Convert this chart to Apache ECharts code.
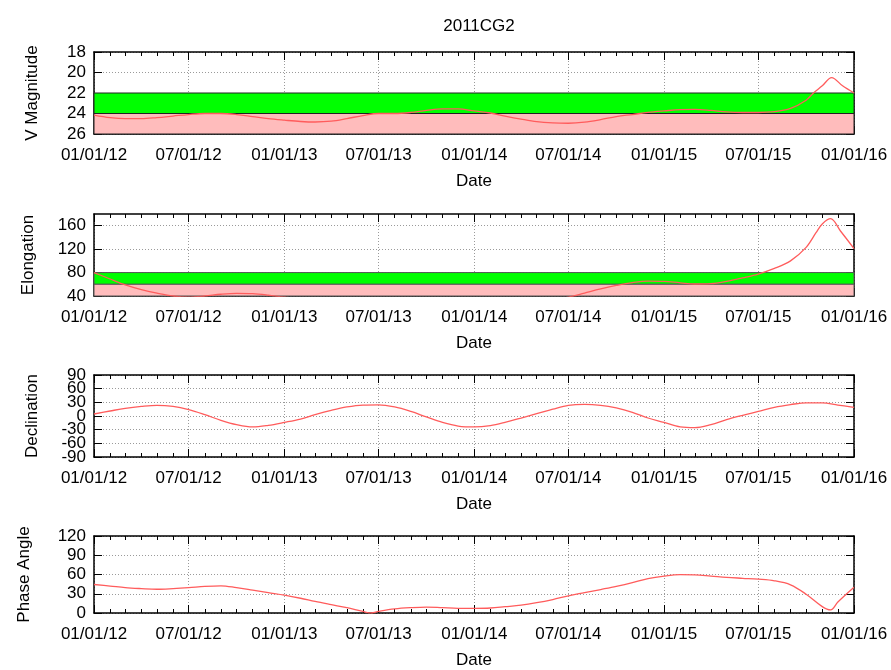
<!DOCTYPE html>
<html><head><meta charset="utf-8">
<script src="https://cdn.jsdelivr.net/npm/echarts@6/dist/echarts.min.js"></script>
<style>html,body{margin:0;padding:0;background:#fff}#c{width:891px;height:670px}</style>
</head><body><div id="c"></div>
<script>
// ---------------- data ----------------
const chartTitle = '2011CG2';
const xName = 'Date';
const xStart = '2012-01-01';
const xEnd = '2016-01-01';
const xTickDates = ['2012-01-01','2012-07-01','2013-01-01','2013-07-01','2014-01-01','2014-07-01','2015-01-01','2015-07-01','2016-01-01'];

const vmagTicks = [18, 20, 22, 24, 26];
const vmagGoodBand = [22, 24];
const vmagFaintBand = [24, 26];
const vmagDates = ['2012-01-01','2012-02-01','2012-03-01','2012-04-01','2012-05-01','2012-06-01','2012-07-01','2012-08-01','2012-09-01','2012-10-01','2012-11-01','2012-12-01',
  '2013-01-01','2013-02-01','2013-03-01','2013-04-01','2013-05-01','2013-06-01','2013-07-01','2013-08-01','2013-09-01','2013-10-01','2013-11-01','2013-12-01',
  '2014-01-01','2014-02-01','2014-03-01','2014-04-01','2014-05-01','2014-06-01','2014-07-01','2014-08-01','2014-09-01','2014-10-01','2014-11-01','2014-12-01',
  '2015-01-01','2015-02-01','2015-03-01','2015-04-01','2015-05-01','2015-06-01','2015-07-01','2015-08-01','2015-09-01','2015-10-01','2015-10-15','2015-11-01','2015-11-19','2015-12-10','2016-01-01'];
const vmagValues = [24.15,24.4,24.5,24.5,24.4,24.25,24.1,24.0,24.0,24.1,24.3,24.5,
  24.65,24.78,24.83,24.75,24.5,24.2,24.0,24.0,23.9,23.7,23.55,23.55,
  23.75,23.95,24.25,24.55,24.8,24.92,24.95,24.85,24.6,24.3,24.1,23.9,
  23.75,23.62,23.6,23.7,23.85,23.9,23.9,23.82,23.5,22.7,22.0,21.3,20.5,21.3,22.0];

const elongTicks = [40, 80, 120, 160];
const elongGoodBand = [60, 80];
const elongLowBand = [40, 60];
const elongDates = ['2012-01-01','2012-02-01','2012-03-01','2012-04-01','2012-05-01','2012-06-01','2012-07-01','2012-08-01','2012-09-01','2012-10-01','2012-11-01','2012-12-01',
  '2013-01-01','2013-04-01','2013-07-01','2013-10-01','2014-01-01','2014-04-01','2014-06-01','2014-07-01','2014-08-01','2014-09-01','2014-10-01','2014-11-01','2014-12-01',
  '2015-01-01','2015-02-01','2015-03-01','2015-04-01','2015-05-01','2015-06-01','2015-07-01','2015-08-01','2015-09-01','2015-10-01','2015-10-20','2015-11-01','2015-11-17','2015-12-06','2016-01-01'];
const elongValues = [80,69,59,51,45,40,38,40,43,44.5,44,41.5,
  38,30,27,25,24,27,33,38,45,52,58,63,65.5,
  65,62.5,60.5,61,65,71,77.5,87,100,123,148,163,172,151,121];

const decTicks = [-90, -60, -30, 0, 30, 60, 90];
const decDates = ['2012-01-01','2012-02-01','2012-03-01','2012-04-01','2012-05-01','2012-06-01','2012-07-01','2012-08-01','2012-09-01','2012-10-01','2012-11-01','2012-12-01',
  '2013-01-01','2013-02-01','2013-03-01','2013-04-01','2013-05-01','2013-06-01','2013-07-01','2013-08-01','2013-09-01','2013-10-01','2013-11-01','2013-12-01',
  '2014-01-01','2014-02-01','2014-03-01','2014-04-01','2014-05-01','2014-06-01','2014-07-01','2014-08-01','2014-09-01','2014-10-01','2014-11-01','2014-12-01',
  '2015-01-01','2015-02-01','2015-03-01','2015-04-01','2015-05-01','2015-06-01','2015-07-01','2015-08-01','2015-09-01','2015-10-01','2015-11-01','2015-12-01','2016-01-01'];
const decValues = [4.4,11,16.8,21,23.4,21,14,3,-9.5,-19,-24,-20.5,
  -14,-6.6,3,12.4,19.8,24,24.5,19.8,10,-2,-14,-22,
  -24,-21,-14,-4.4,5,15,23.4,25.6,23.4,17.6,8,-4.4,
  -14,-24,-25.6,-19,-8,1.5,10,19,25,29,29,24,19];

const phaseTicks = [0, 30, 60, 90, 120];
const phaseDates = ['2012-01-01','2012-02-01','2012-03-01','2012-04-01','2012-05-01','2012-06-01','2012-07-01','2012-08-01','2012-09-01','2012-10-01','2012-11-01','2012-12-01',
  '2013-01-01','2013-02-01','2013-03-01','2013-04-01','2013-05-01','2013-06-01','2013-06-17','2013-07-01','2013-08-01','2013-09-01','2013-10-01','2013-11-01','2013-12-01',
  '2014-01-01','2014-02-01','2014-03-01','2014-04-01','2014-05-01','2014-06-01','2014-07-01','2014-08-01','2014-09-01','2014-10-01','2014-11-01','2014-12-01',
  '2015-01-01','2015-02-01','2015-03-01','2015-04-01','2015-05-01','2015-06-01','2015-07-01','2015-08-01','2015-09-01','2015-10-01','2015-11-01','2015-11-17','2015-12-01','2016-01-01'];
const phaseValues = [44.4,42,39.5,38,37,38,39.5,41.5,42.4,39.5,35.6,31.7,
  27.8,23,18,13,8.3,2.4,0,2.4,6.3,8.3,9.3,8.3,7.3,
  7.3,7.8,9.8,12.2,16,21,26.8,31.7,36.6,41.5,47.3,53.7,
  57.6,59.7,59.5,57.6,55.6,54.1,52.7,50.2,43.9,29.3,10,4.9,17,40];

// ---------------- build ----------------
function ts(s){ const p = s.split('-').map(Number); return Date.UTC(p[0], p[1]-1, p[2]); }
function pad(n){ return (n < 10 ? '0' : '') + n; }
function fmtDate(v){ const d = new Date(v); return pad(d.getUTCMonth()+1) + '/' + pad(d.getUTCDate()) + '/' + pad(d.getUTCFullYear() % 100); }
const xMin = ts(xStart), xMax = ts(xEnd);
const xMajor = xTickDates.map(ts);
const xMinor = [];
for (let y = 2012; y <= 2015; y++) for (let m = 0; m < 12; m++) xMinor.push(Date.UTC(y, m, 1));
xMinor.push(xMax);

const FONT = 'Liberation Sans';
const FS = 17;
const panels = [
  {name: 'V Magnitude', min: 18, max: 26, inverse: true, ticks: vmagTicks, dates: vmagDates, values: vmagValues, nameGap: 53,
   bands: [[vmagGoodBand, '#00ff00'], [vmagFaintBand, '#ffbcbc']], bandBorder: '#222'},
  {name: 'Elongation', min: 40, max: 180, inverse: false, ticks: elongTicks, dates: elongDates, values: elongValues, nameGap: 57,
   bands: [[elongGoodBand, '#00ff00'], [elongLowBand, '#ffbcbc']], bandBorder: '#555'},
  {name: 'Declination', min: -90, max: 90, inverse: false, ticks: decTicks, dates: decDates, values: decValues, nameGap: 53, bands: [], splitLabels: true},
  {name: 'Phase Angle', min: 0, max: 120, inverse: false, ticks: phaseTicks, dates: phaseDates, values: phaseValues, nameGap: 61, bands: []}
];
const tops = [52, 214, 375, 536];
const gridH = 82;

const grid = [], xAxis = [], yAxis = [], series = [];
const black = '#000';
const dotted = {show: true, lineStyle: {color: '#9a9a9a', width: 1, type: [1, 2]}};
const yLabelStyle = {show: true, margin: 8, fontFamily: FONT, fontSize: FS, color: black,
  showMinLabel: true, showMaxLabel: true, hideOverlap: false};
panels.forEach((p, i) => {
  grid.push({left: 94, right: 37, top: tops[i], height: gridH, containLabel: false});
  const base = {type: 'value', gridIndex: i, min: xMin, max: xMax};
  xAxis.push(Object.assign({}, base, {
    position: 'bottom', name: xName, nameLocation: 'middle', nameGap: 39,
    nameTextStyle: {fontFamily: FONT, fontSize: FS, color: black},
    axisLine: {show: true, onZero: false, lineStyle: {color: black, width: 1.5}},
    axisTick: {show: true, inside: true, length: 8, customValues: xMajor, lineStyle: {color: black}},
    axisLabel: {show: true, customValues: xMajor, formatter: fmtDate, margin: 13, fontFamily: FONT, fontSize: FS, color: black,
      showMinLabel: true, showMaxLabel: true, hideOverlap: false},
    splitLine: dotted
  }));
  xAxis.push(Object.assign({}, base, {
    position: 'bottom', axisLine: {show: false, onZero: false}, axisLabel: {show: false}, splitLine: {show: false},
    axisTick: {show: true, inside: true, length: 4, customValues: xMinor, lineStyle: {color: black}}
  }));
  xAxis.push(Object.assign({}, base, {
    position: 'top', axisLine: {show: true, onZero: false, lineStyle: {color: black, width: 1.5}}, axisLabel: {show: false}, splitLine: {show: false},
    axisTick: {show: true, inside: true, length: 8, customValues: xMajor, lineStyle: {color: black}}
  }));
  xAxis.push(Object.assign({}, base, {
    position: 'top', axisLine: {show: false, onZero: false}, axisLabel: {show: false}, splitLine: {show: false},
    axisTick: {show: true, inside: true, length: 4, customValues: xMinor, lineStyle: {color: black}}
  }));
  const yb = {type: 'value', gridIndex: i, min: p.min, max: p.max, inverse: p.inverse};
  // labels alternate between two co-located left axes when ticks are too dense for ECharts' overlap check
  const labA = p.splitLabels ? p.ticks.filter((v, k) => k % 2 === 0) : p.ticks;
  const labB = p.splitLabels ? p.ticks.filter((v, k) => k % 2 === 1) : null;
  const mainY = yAxis.length;
  yAxis.push(Object.assign({}, yb, {
    position: 'left', name: p.name, nameLocation: 'middle', nameGap: p.nameGap, nameRotate: 90,
    nameTextStyle: {fontFamily: FONT, fontSize: FS, color: black},
    axisLine: {show: true, onZero: false, lineStyle: {color: black, width: 1.5}},
    axisTick: {show: true, inside: true, length: 8, customValues: p.ticks, lineStyle: {color: black}},
    axisLabel: Object.assign({customValues: labA}, yLabelStyle),
    splitLine: dotted
  }));
  if (labB) {
    yAxis.push(Object.assign({}, yb, {
      position: 'left', axisLine: {show: false, onZero: false}, axisTick: {show: false}, splitLine: {show: false},
      axisLabel: Object.assign({customValues: labB}, yLabelStyle)
    }));
  }
  yAxis.push(Object.assign({}, yb, {
    position: 'right', axisLine: {show: true, onZero: false, lineStyle: {color: black, width: 1.5}},
    axisTick: {show: true, inside: true, length: 8, customValues: p.ticks, lineStyle: {color: black}},
    axisLabel: {show: false}, splitLine: {show: false}
  }));
  const data = p.dates.map((d, k) => [ts(d), p.values[k]]);
  series.push({
    type: 'line', xAxisIndex: 4 * i, yAxisIndex: mainY, data: data,
    showSymbol: false, symbol: 'none', smooth: 0.35, clip: true,
    lineStyle: {color: '#ff5c5c', width: 1.3},
    markArea: p.bands.length ? {
      silent: true,
      data: p.bands.map(b => [
        {yAxis: b[0][0], itemStyle: {color: b[1], borderColor: p.bandBorder, borderWidth: 1}},
        {yAxis: b[0][1]}
      ])
    } : undefined
  });
});

const chart = echarts.init(document.getElementById('c'), null, {renderer: 'canvas'});
chart.setOption({
  animation: false,
  backgroundColor: '#fff',
  title: {text: chartTitle, left: 474, top: 13, textAlign: 'center',
    textStyle: {fontFamily: FONT, fontSize: FS, fontWeight: 'normal', color: black}},
  grid: grid, xAxis: xAxis, yAxis: yAxis, series: series
});
</script></body></html>
